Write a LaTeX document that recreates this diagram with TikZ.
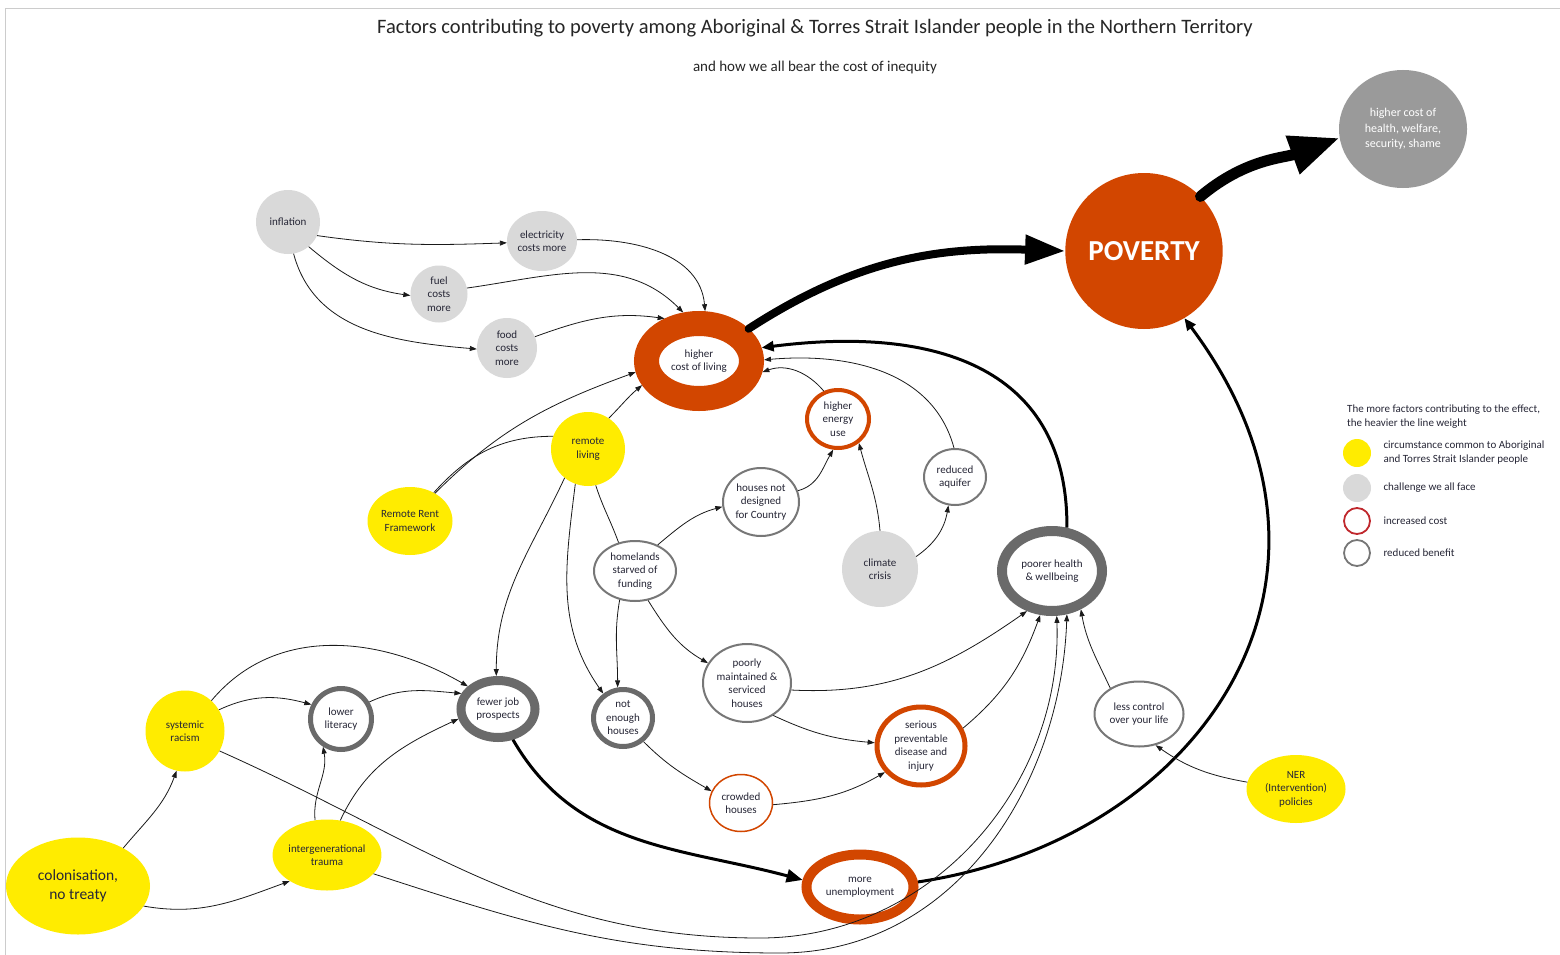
\documentclass[tikz,border=0pt]{standalone}
\usepackage{fontspec}
\setmainfont{Carlito}
\usetikzlibrary{shapes.geometric,arrows.meta}
\definecolor{org}{HTML}{D24600}
\definecolor{yel}{HTML}{FFEC00}
\definecolor{lgr}{HTML}{D9D9D9}
\definecolor{mgr}{HTML}{9A9A9A}
\definecolor{dgr}{HTML}{6A6A6A}
\definecolor{ogr}{HTML}{777777}
\definecolor{txt}{HTML}{262636}
\definecolor{legred}{HTML}{C0282D}
\definecolor{lnc}{HTML}{1A1A1A}
\begin{document}
\begin{tikzpicture}[x=1pt,y=-1pt,
  nd/.style={ellipse, inner sep=0pt, align=center, text=txt, font=\fontsize{11}{13.5}\selectfont},
  yelnd/.style={nd, fill=yel},
  grnd/.style={nd, fill=lgr},
  sz/.style 2 args={minimum width=#1pt, minimum height=#2pt},
  ar/.style={draw=lnc, line width=0.8pt, -{Triangle[length=7pt,width=5pt]}},
  ln/.style={draw=lnc, line width=0.8pt},
  mid/.style={draw=black, line width=3pt, -{Triangle[length=12pt,width=10pt]}},
  bigA/.style={draw=black, line width=8pt, line cap=round, -{Triangle[length=40pt,width=28pt]}},
  bigB/.style={draw=black, line width=11pt, line cap=round, -{Triangle[length=50pt,width=38pt]}},
  legtxt/.style={anchor=west, align=left, text=txt, font=\fontsize{11}{14}\selectfont}
]
\useasboundingbox (0,0) rectangle (1560,955);
\fill[white] (0,0) rectangle (1560,955);
\draw[black!20, line width=1pt] (5,955) -- (5,9) -- (1560,9);

% titles
\node[font=\fontsize{20.5}{24}\selectfont, text=black!85] (title) at (815,28) {Factors contributing to poverty among Aboriginal \& Torres Strait Islander people in the Northern Territory};
\node[font=\fontsize{15}{18}\selectfont, text=black!85] (sub) at (815,68) {and how we all bear the cost of inequity};

% nodes
\node[grnd, sz={64}{64}] (infl) at (288,222) {inflation};
\node[grnd, sz={70}{60}] (elec) at (542,241) {electricity\\costs more};
\node[grnd, sz={57}{57}] (fuel) at (439,294) {fuel\\costs\\more};
\node[grnd, sz={60}{60}] (food) at (507,348) {food\\costs\\more};
\node[nd, draw=org, line width=25pt, sz={105}{75}] (hcl) at (699,361) {higher\\cost of living};
\node[yelnd, sz={74}{74}] (rl) at (588,449) {remote\\living};
\node[yelnd, sz={85}{68}] (rrf) at (410,521) {Remote Rent\\Framework};
\node[nd, draw=org, line width=4pt, sz={62}{58}] (heu) at (838,419) {higher\\energy\\use};
\node[nd, draw=ogr, line width=2pt, sz={76}{68}] (hnd) at (761,502) {houses not\\designed\\for Country};
\node[nd, draw=ogr, line width=2pt, sz={62}{56}] (ra) at (955,477) {reduced\\aquifer};
\node[grnd, sz={76}{76}] (cc) at (880,569) {climate\\crisis};
\node[nd, draw=dgr, line width=10pt, sz={100}{80}] (ph) at (1052,571) {poorer health\\\& wellbeing};
\node[nd, draw=ogr, line width=2pt, sz={82}{60}] (hs) at (635,571) {homelands\\starved of\\funding};
\node[nd, draw=ogr, line width=2pt, sz={88}{78}] (pm) at (747,683) {poorly\\maintained \&\\serviced\\houses};
\node[nd, draw=dgr, line width=5pt, sz={59}{57}] (neh) at (623,718) {not\\enough\\houses};
\node[nd, draw=dgr, line width=9pt, sz={74}{57}] (fjp) at (498,709) {fewer job\\prospects};
\node[nd, draw=dgr, line width=5pt, sz={61}{61}] (ll) at (341,719) {lower\\literacy};
\node[yelnd, sz={79}{81}] (sr) at (185,731) {systemic\\racism};
\node[yelnd, sz={144}{97}, font=\fontsize{15.5}{19}\selectfont] (col) at (78,886) {colonisation,\\no treaty};
\node[yelnd, sz={107}{71}] (it) at (327,855) {intergenerational\\trauma};
\node[nd, draw=org, line width=1.5pt, sz={63}{57}] (cr) at (741,803) {crowded\\houses};
\node[nd, draw=org, line width=5pt, sz={88}{78}] (ser) at (921,746) {serious\\preventable\\disease and\\injury};
\node[nd, draw=org, line width=10pt, sz={107}{65}] (un) at (860,887) {more\\unemployment};
\node[nd, draw=ogr, line width=2pt, sz={89}{65}] (lc) at (1139,714) {less control\\over your life};
\node[yelnd, sz={99}{68}] (ner) at (1296,789) {NER\\(Intervention)\\policies};
\node[nd, fill=org, sz={156}{156}, text=white, font=\fontsize{29}{33}\selectfont\bfseries] (pov) at (1144,251) {POVERTY};
\node[nd, fill=mgr, sz={128}{118}, text=white, font=\fontsize{12}{15.5}\selectfont] (hc) at (1403,129) {higher cost of\\health, welfare,\\security, shame};

% edges
\draw[ar] (infl.-25) to[out=-8,in=182] (elec.183);
\draw[ar] (infl.-50) to[out=-40,in=172] (fuel.183);
\draw[ar] (infl.-80) to[out=-75,in=175] (food.182);
\draw[ar] (elec.2) to[out=2,in=95] (hcl.83);
\draw[ar] (fuel.12) to[out=8,in=135] (hcl.108);
\draw[ar] (food.22) to[out=20,in=172] (hcl.129);
\draw[ar] (rrf.48) to[out=45,in=200] (hcl.190);
\draw[ln] (rrf.50) to[out=48,in=180] (rl.160);
\draw[ar] (rl.56) to[out=45,in=220] (hcl.203);
\draw[ar] (rl.-129) to[out=-115,in=90] (fjp.93);
\draw[ar] (rl.-110) to[out=-97,in=125] (neh.129);
\draw[ln] (rl.-78) to[out=-72,in=110] (hs.120);
\draw[ar] (hs.49) to[out=40,in=195] (hnd.187);
\draw[ar] (hs.-118) to[out=-100,in=90] (neh.100);
\draw[ar] (hs.-66) to[out=-58,in=150] (pm.153);
\draw[ar] (hnd.17) to[out=15,in=-120] (heu.-99);
\draw[ar] (cc.90) to[out=95,in=-75] (heu.-49);
\draw[ar] (cc.19) to[out=35,in=-100] (ra.-103);
\draw[ar] (heu.117) to[out=130,in=20] (hcl.-10);
\draw[ar] (ra.92) to[out=105,in=5] (hcl.1);
\draw[mid] (ph.71) .. controls (1068,370) and (940,325) .. (hcl.12);
\draw[bigA] (hcl.33) to[out=33,in=178] (pov.180);
\draw[bigB] (pov.44) to[out=40,in=200] (hc.188);
\draw[mid] (un.5) .. controls (1200,840) and (1380,580) .. (pov.-59);
\draw[mid, -{Triangle[length=16pt,width=13pt]}] (fjp.-64) to[out=-60,in=165] (un.173);
\draw[ar] (pm.-9) to[out=-3,in=215] (ph.-122);
\draw[ar] (pm.-51) to[out=-25,in=175] (ser.176);
\draw[ar] (neh.-49) to[out=-45,in=150] (cr.158);
\draw[ar] (cr.-3) to[out=5,in=210] (ser.-144);
\draw[ar] (ser.23) to[out=40,in=-110] (ph.-105);
\draw[ar] (lc.138) to[out=115,in=-80] (ph.-53);
\draw[ar] (ner.172) to[out=170,in=-35] (lc.-62);
\draw[ar] (sr.32) to[out=25,in=165] (ll.154);
\draw[ar] (sr.49) to[out=50,in=150] (fjp.143);
\draw[ar] (ll.31) to[out=25,in=175] (fjp.157);
\draw[ar] (it.109) to[out=95,in=-80] (ll.-123);
\draw[ar] (it.69) to[out=65,in=205] (fjp.194);
\draw[ar] (col.40) to[out=50,in=-110] (sr.-102);
\draw[ar] (col.-17) to[out=-10,in=200] (it.-145);
\draw[ar] (sr.-30) to[out=-24,in=180] (760,938) to[out=0,in=-88] (ph.-84);
\draw[ar] (it.-22) to[out=-18,in=180] (780,953) to[out=0,in=-92] (ph.-71);

% legend
\node[anchor=north west, align=left, text=txt, font=\fontsize{11}{13.5}\selectfont, inner sep=0pt] (lgt) at (1347,405) {The more factors contributing to the effect,\\the heavier the line weight};
\node[circle, fill=yel, minimum size=28pt, inner sep=0pt] (l1) at (1357,453) {};
\node[circle, fill=lgr, minimum size=28pt, inner sep=0pt] (l2) at (1357,488) {};
\node[circle, draw=legred, line width=1.8pt, minimum size=26pt, inner sep=0pt] (l3) at (1357,521) {};
\node[circle, draw=ogr, line width=1.8pt, minimum size=26pt, inner sep=0pt] (l4) at (1357,553) {};
\node[legtxt] (t1) at (1380,453) {circumstance common to Aboriginal\\and Torres Strait Islander people};
\node[legtxt] (t2) at (1380,488) {challenge we all face};
\node[legtxt] (t3) at (1380,521) {increased cost};
\node[legtxt] (t4) at (1380,553) {reduced benefit};
\end{tikzpicture}
\end{document}
